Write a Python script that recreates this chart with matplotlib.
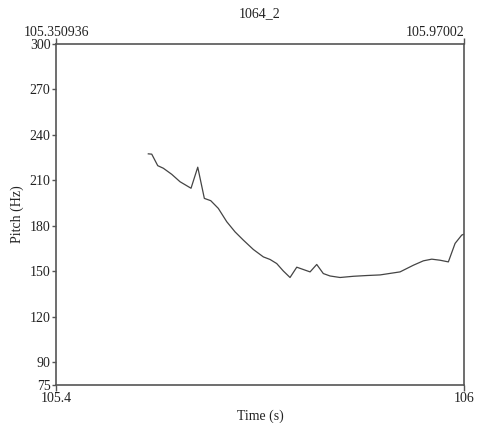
import numpy as np
import matplotlib.pyplot as plt

plt.rcParams['font.family'] = ['Liberation Serif', 'DejaVu Serif']
plt.rcParams['font.size'] = 10
plt.rcParams['text.color'] = '#222222'
plt.rcParams['axes.labelcolor'] = '#222222'
plt.rcParams['xtick.labelcolor'] = '#222222'
plt.rcParams['ytick.labelcolor'] = '#222222'

# ----------------------------------------------------------------------------
# Pitch track (segment 1064_2)
# ----------------------------------------------------------------------------
T_START = 105.350936
T_END = 105.97002
F_MIN, F_MAX = 75, 300

times = [105.4910, 105.4962, 105.5053, 105.5138, 105.5265, 105.5391,
         105.5558, 105.5660, 105.5760, 105.5857, 105.5972, 105.6100,
         105.6226, 105.6351, 105.6503, 105.6655, 105.6757, 105.6858,
         105.6958, 105.7060, 105.7162, 105.7364, 105.7465, 105.7565,
         105.7667, 105.7819, 105.8021, 105.8224, 105.8426, 105.8729,
         105.8931, 105.9083, 105.9210, 105.9336, 105.9462, 105.9564,
         105.9665, 105.9700]
pitch = [227.5, 227.3, 219.7, 218.0, 214.0, 209.1,
         204.8, 218.7, 198.1, 196.6, 191.5, 182.7,
         176.0, 170.6, 164.4, 159.5, 157.8, 155.1,
         150.2, 145.9, 152.7, 149.6, 154.5, 148.5,
         146.9, 145.9, 146.7, 147.2, 147.6, 149.6,
         154.0, 156.9, 158.0, 157.3, 156.2, 168.4,
         173.9, 174.5]

y_ticks = [75, 90, 120, 150, 180, 210, 240, 270, 300]
bottom_labels = ["105.4", "106"]
top_labels = ["105.350936", "105.97002"]

frame = '#555555'

fig = plt.figure(figsize=(4.89, 4.23), dpi=100)
ax = fig.add_axes([0.1145, 0.090, 0.8345, 0.806])

ax.plot(times, pitch, color='#444444', linewidth=0.9)

ax.set_xlim(T_START, T_END)
ax.set_ylim(F_MIN, F_MAX)

ax.set_yticks(y_ticks)
ax.set_xticks([T_START, T_END])
ax.set_xticklabels(bottom_labels)

for s in ax.spines.values():
    s.set_color(frame)
    s.set_linewidth(1.2)

ax.tick_params(axis='both', direction='out', length=3, width=1,
               color=frame, pad=1, labelsize=10)
ax.tick_params(axis='x', top=True, length=4)

# start / end times above the frame
ax.text(0.0, 1.015, top_labels[0], transform=ax.transAxes,
        ha='center', va='bottom', fontsize=10)
ax.text(1.0, 1.015, top_labels[1], transform=ax.transAxes,
        ha='right', va='bottom', fontsize=10)

ax.set_title("1064_2", fontsize=10, pad=19)
ax.set_xlabel("Time (s)", fontsize=10, labelpad=3)
ax.set_ylabel("Pitch (Hz)", fontsize=10, labelpad=4)

fig.savefig("out.png", dpi=100)
